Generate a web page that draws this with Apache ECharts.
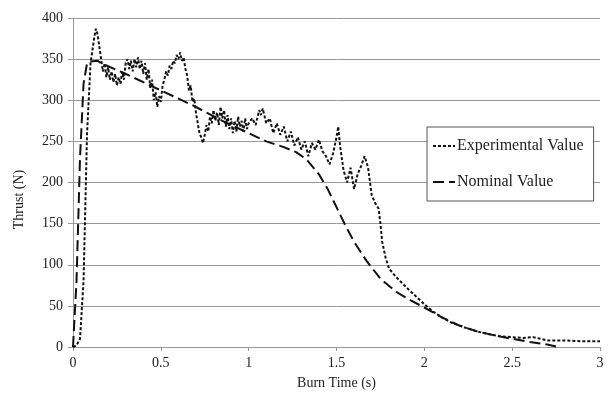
<!DOCTYPE html>
<html>
<head>
<meta charset="utf-8">
<script src="https://cdn.jsdelivr.net/npm/echarts@6/dist/echarts.min.js"></script>
<style>
  html, body { margin: 0; padding: 0; background: #fff; }
  #chart { width: 611px; height: 396px; }
</style>
</head>
<body>
<div id="chart"></div>
<script>
// 实验推力曲线（时间 s / 推力 N）
const expTime = [0.00, 0.02, 0.04, 0.06, 0.08, 0.10, 0.12, 0.13, 0.14, 0.16, 0.17, 0.18, 0.19, 0.20, 0.21, 0.22, 0.23, 0.24, 0.25, 0.26, 0.27, 0.28, 0.29, 0.30, 0.31, 0.32, 0.33, 0.34, 0.35, 0.36, 0.37, 0.38, 0.39, 0.40, 0.41, 0.42, 0.43, 0.44, 0.45, 0.46, 0.47, 0.48, 0.49, 0.50, 0.51, 0.52, 0.53, 0.54, 0.55, 0.56, 0.57, 0.58, 0.59, 0.60, 0.61, 0.62, 0.63, 0.64, 0.65, 0.66, 0.67, 0.68, 0.69, 0.70, 0.71, 0.72, 0.73, 0.74, 0.75, 0.76, 0.77, 0.78, 0.79, 0.80, 0.81, 0.82, 0.83, 0.84, 0.85, 0.86, 0.87, 0.88, 0.89, 0.90, 0.91, 0.92, 0.93, 0.94, 0.95, 0.96, 0.97, 0.98, 0.99, 1.00, 1.02, 1.04, 1.06, 1.07, 1.08, 1.10, 1.12, 1.14, 1.16, 1.18, 1.20, 1.22, 1.24, 1.26, 1.28, 1.30, 1.32, 1.34, 1.36, 1.38, 1.40, 1.42, 1.44, 1.46, 1.48, 1.50, 1.51, 1.52, 1.54, 1.56, 1.58, 1.60, 1.62, 1.64, 1.66, 1.68, 1.70, 1.72, 1.74, 1.75, 1.76, 1.78, 1.80, 1.84, 1.90, 1.96, 2.00, 2.05, 2.10, 2.16, 2.24, 2.30, 2.36, 2.43, 2.50, 2.56, 2.62, 2.66, 2.70, 2.80, 2.90, 3.00]
const expThrust = [0, 2, 10, 80, 260, 345, 375, 387, 380, 350, 335, 345, 328, 340, 325, 335, 322, 332, 318, 328, 320, 335, 325, 345, 350, 338, 348, 335, 350, 340, 352, 338, 348, 332, 345, 325, 338, 315, 325, 300, 310, 292, 305, 298, 318, 325, 335, 330, 342, 338, 348, 345, 355, 350, 358, 348, 352, 338, 330, 312, 318, 298, 302, 285, 272, 260, 255, 248, 258, 270, 262, 280, 272, 288, 275, 285, 270, 292, 278, 288, 268, 282, 265, 278, 260, 275, 262, 280, 268, 275, 262, 278, 265, 272, 278, 270, 288, 282, 290, 272, 278, 260, 272, 258, 268, 250, 262, 245, 255, 240, 250, 232, 248, 240, 252, 238, 232, 222, 235, 255, 268, 245, 215, 200, 218, 192, 210, 220, 232, 218, 185, 175, 168, 150, 128, 108, 95, 85, 72, 60, 52, 43, 36, 29, 23, 19, 16, 13, 12, 11, 12, 10, 8, 8, 7, 7]

// 名义推力曲线
const nomTime = [0.00, 0.02, 0.04, 0.06, 0.08, 0.10, 0.14, 0.16, 0.30, 0.50, 0.68, 0.85, 1.00, 1.10, 1.20, 1.27, 1.33, 1.40, 1.45, 1.50, 1.55, 1.60, 1.67, 1.75, 1.84, 1.92, 2.00, 2.05, 2.10, 2.20, 2.30, 2.40, 2.50, 2.60, 2.70, 2.76]
const nomThrust = [0, 80, 230, 320, 345, 347, 348, 345, 332, 312, 294, 275, 260, 250, 243, 237, 228, 210, 192, 170, 148, 128, 105, 83, 67, 57, 48, 42, 36, 26, 19, 14, 10, 6, 3, 0]

const xTicks = [0, 0.5, 1, 1.5, 2, 2.5, 3]
const yTicks = [0, 50, 100, 150, 200, 250, 300, 350, 400]

const font = '"Liberation Serif", "Times New Roman", serif'
const chart = echarts.init(document.getElementById('chart'))

chart.setOption({
  animation: false,
  textStyle: { fontFamily: font },
  grid: { left: 73, right: 11, top: 18, bottom: 49 },
  legend: {
    orient: 'vertical',
    left: 427,
    top: 127,
    padding: [11, 10, 11, 5],
    itemGap: 20,
    itemWidth: 22,
    itemHeight: 8,
    borderColor: '#555',
    borderWidth: 1,
    backgroundColor: '#fff',
    itemStyle: { opacity: 0 },
    textStyle: { fontFamily: font, fontSize: 16, color: '#222', padding: [0, 0, 0, -3] },
    data: ['Experimental Value', 'Nominal Value']
  },
  xAxis: {
    type: 'value',
    min: xTicks[0],
    max: xTicks[xTicks.length - 1],
    interval: 0.5,
    name: 'Burn Time (s)',
    nameLocation: 'middle',
    nameGap: 29,
    nameTextStyle: { fontFamily: font, fontSize: 14, color: '#222' },
    axisLine: { lineStyle: { color: '#999' } },
    axisTick: { show: true, length: 4, lineStyle: { color: '#999' } },
    axisLabel: { fontFamily: font, fontSize: 14, color: '#222', margin: 9 },
    splitLine: { show: false }
  },
  yAxis: {
    type: 'value',
    min: yTicks[0],
    max: yTicks[yTicks.length - 1],
    interval: 50,
    name: 'Thrust (N)',
    nameLocation: 'middle',
    nameGap: 47,
    nameTextStyle: { fontFamily: font, fontSize: 14, color: '#222', padding: [0, 0, 0, -34] },
    axisLine: { show: true, lineStyle: { color: '#999' } },
    axisTick: { show: true, length: 5, lineStyle: { color: '#999' } },
    axisLabel: { fontFamily: font, fontSize: 14, color: '#222', margin: 10 },
    splitLine: { lineStyle: { color: '#999', width: 1 } }
  },
  series: [
    {
      name: 'Experimental Value',
      type: 'line',
      data: expTime.map((t, i) => [t, expThrust[i]]),
      showSymbol: false,
      symbol: 'none',
      lineStyle: { color: '#111', width: 2, type: [3, 2] },
      itemStyle: { color: '#111' }
    },
    {
      name: 'Nominal Value',
      type: 'line',
      data: nomTime.map((t, i) => [t, nomThrust[i]]),
      showSymbol: false,
      symbol: 'none',
      lineStyle: { color: '#111', width: 2, type: [11, 5] },
      itemStyle: { color: '#111' }
    }
  ]
})
</script>
</body>
</html>
